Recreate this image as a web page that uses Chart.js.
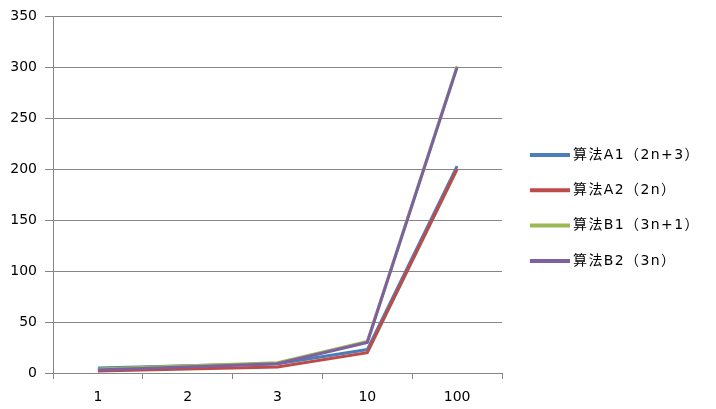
<!DOCTYPE html>
<html>
<head>
<meta charset="utf-8">
<script src="https://cdn.jsdelivr.net/npm/chart.js@4"></script>
<style>
  html, body { margin: 0; padding: 0; background: #fff; }
  #wrap { width: 716px; height: 409px; position: relative; }
</style>
</head>
<body>
<div id="wrap"><canvas id="myChart"></canvas></div>
<script>
const categorias = ["1", "2", "3", "10", "100"];
const nombresSeries = ["算法A1（2n+3）", "算法A2（2n）", "算法B1（3n+1）", "算法B2（3n）"];
const valoresA1 = [5, 7, 9, 23, 203];
const valoresA2 = [2, 4, 6, 20, 200];
const valoresB1 = [4, 7, 10, 31, 301];
const valoresB2 = [3, 6, 9, 30, 300];
const colores = ["#4A7EBB", "#BE4B48", "#98B954", "#7D60A0"];

const fuente = "'DejaVu Sans', 'Noto Sans CJK SC', sans-serif";
const gris = "#868686";

// leyenda dibujada a mano, como en Excel
const leyendaPlugin = {
  id: "leyendaExcel",
  afterDraw(chart) {
    const ctx = chart.ctx;
    ctx.save();
    ctx.font = "14px " + fuente;
    ctx.letterSpacing = "1.4px";
    ctx.textBaseline = "middle";
    chart.data.datasets.forEach((ds, i) => {
      const y = 155 + i * 35.3;
      ctx.strokeStyle = ds.borderColor;
      ctx.lineWidth = 4;
      ctx.beginPath();
      ctx.moveTo(530, y);
      ctx.lineTo(570, y);
      ctx.stroke();
      ctx.fillStyle = "#000";
      ctx.fillText(ds.label, 573, y);
    });
    ctx.restore();
  },
};

const series = [valoresA1, valoresA2, valoresB1, valoresB2];
const datasets = series.map((vals, i) => ({
  label: nombresSeries[i],
  data: vals,
  borderColor: colores[i],
  backgroundColor: colores[i],
  borderWidth: 3,
  pointRadius: 0,
  tension: 0,
  order: 4 - i,
}));

new Chart(document.getElementById("myChart"), {
  type: "line",
  data: { labels: categorias, datasets: datasets },
  plugins: [leyendaPlugin],
  options: {
    responsive: true,
    maintainAspectRatio: false,
    animation: false,
    layout: { padding: { top: 16, right: 214, bottom: 0, left: 0 } },
    plugins: { legend: { display: false }, tooltip: { enabled: false } },
    scales: {
      x: {
        offset: true,
        grid: {
          offset: true,
          drawOnChartArea: false,
          drawTicks: true,
          tickLength: 6,
          color: gris,
        },
        border: { color: gris },
        ticks: { color: "#000", font: { family: fuente, size: 14 }, padding: 10 },
        afterFit(scale) { scale.height = 409 - 373; },
      },
      y: {
        min: 0,
        max: 350,
        ticks: { stepSize: 50, color: "#000", font: { family: fuente, size: 14 }, padding: 8 },
        grid: { color: gris, tickLength: 8 },
        border: { color: gris },
        afterFit(scale) { scale.width = 53; },
      },
    },
  },
});
</script>
</body>
</html>
